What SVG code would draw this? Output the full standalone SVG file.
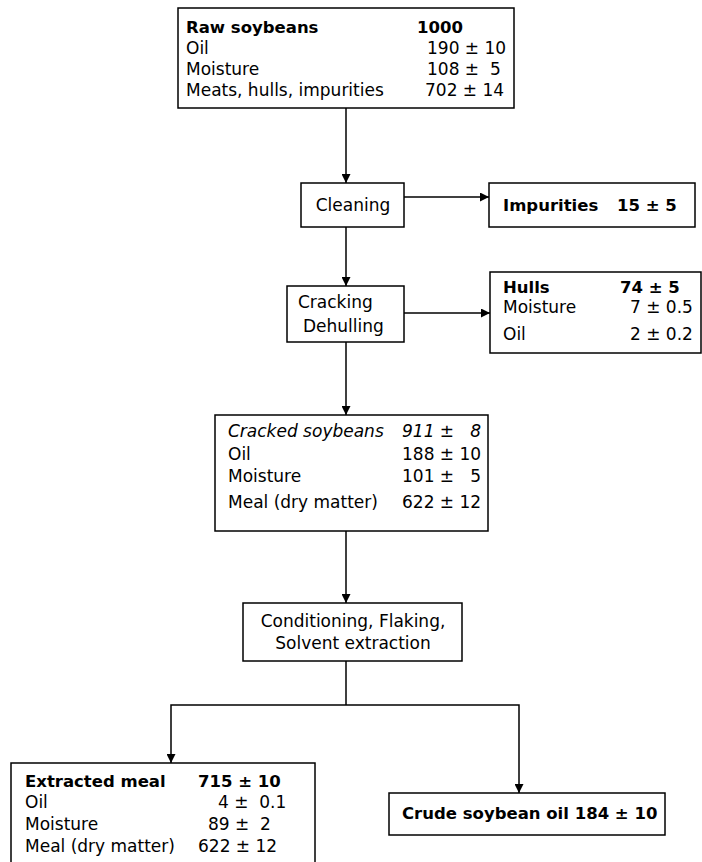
<svg xmlns="http://www.w3.org/2000/svg" width="702" height="862" viewBox="0 0 702 862" xml:space="preserve">
  <style>
    .box { fill: #ffffff; stroke: #000000; stroke-width: 1.5; }
    .t { font-family: "DejaVu Sans", "Liberation Sans", sans-serif; font-size: 17px; fill: #000000; white-space: pre; }
    .b { font-family: "DejaVu Sans", "Liberation Sans", sans-serif; font-size: 16.5px; font-weight: bold; fill: #000000; white-space: pre; }
    .i { font-style: italic; }
    .c { text-anchor: middle; }
    .ln { fill: none; stroke: #000000; stroke-width: 1.5; }
  </style>
  <defs>
    <marker id="arrow" viewBox="0 0 10 10" refX="10" refY="5" markerWidth="9" markerHeight="9" markerUnits="userSpaceOnUse" orient="auto">
      <path d="M0,0 L10,5 L0,10 z" fill="#000000"/>
    </marker>
  </defs>
  <rect width="702" height="862" fill="#ffffff"/>

  <!-- flow lines -->
  <g id="connectors">
    <path class="ln" d="M346,108 V183" marker-end="url(#arrow)"/>
    <path class="ln" d="M404,197 H489" marker-end="url(#arrow)"/>
    <path class="ln" d="M346,227 V286" marker-end="url(#arrow)"/>
    <path class="ln" d="M404,313 H490" marker-end="url(#arrow)"/>
    <path class="ln" d="M346,342 V415" marker-end="url(#arrow)"/>
    <path class="ln" d="M346,531 V603" marker-end="url(#arrow)"/>
    <path class="ln" d="M346,661 V705"/>
    <path class="ln" d="M346,705 H171 V763" marker-end="url(#arrow)"/>
    <path class="ln" d="M346,705 H519 V793" marker-end="url(#arrow)"/>
  </g>

  <g id="raw-soybeans">
    <rect class="box" x="178" y="8" width="336" height="100"/>
    <text class="b" x="186" y="33">Raw soybeans</text>
    <text class="b" x="417" y="33">1000</text>
    <text class="t" x="186" y="54">Oil</text>
    <text class="t" x="427" y="54">190 ± 10</text>
    <text class="t" x="186" y="75">Moisture</text>
    <text class="t" x="427" y="75">108 ±  5</text>
    <text class="t" x="186" y="96">Meats, hulls, impurities</text>
    <text class="t" x="425" y="96">702 ± 14</text>
  </g>

  <g id="cleaning">
    <rect class="box" x="301" y="183" width="103" height="44"/>
    <text class="t c" x="353" y="211">Cleaning</text>
  </g>

  <g id="impurities">
    <rect class="box" x="489" y="183" width="206" height="44"/>
    <text class="b" x="503" y="211">Impurities</text>
    <text class="b" x="617" y="211">15 ± 5</text>
  </g>

  <g id="cracking">
    <rect class="box" x="287" y="286" width="117" height="56"/>
    <text class="t" x="298" y="308">Cracking</text>
    <text class="t" x="303" y="332">Dehulling</text>
  </g>

  <g id="hulls">
    <rect class="box" x="490" y="272" width="211" height="81"/>
    <text class="b" x="503" y="293">Hulls</text>
    <text class="b" x="620" y="293">74 ± 5</text>
    <text class="t" x="503" y="313">Moisture</text>
    <text class="t" x="630" y="313">7 ± 0.5</text>
    <text class="t" x="503" y="340">Oil</text>
    <text class="t" x="630" y="340">2 ± 0.2</text>
  </g>

  <g id="cracked-soybeans">
    <rect class="box" x="215" y="415" width="273" height="116"/>
    <text class="t i" x="228" y="437">Cracked soybeans</text>
    <text class="t i" x="402" y="437">911 ±   8</text>
    <text class="t" x="228" y="460">Oil</text>
    <text class="t" x="402" y="460">188 ± 10</text>
    <text class="t" x="228" y="482">Moisture</text>
    <text class="t" x="402" y="482">101 ±   5</text>
    <text class="t" x="228" y="508">Meal (dry matter)</text>
    <text class="t" x="402" y="508">622 ± 12</text>
  </g>

  <g id="conditioning">
    <rect class="box" x="243" y="603" width="219" height="58"/>
    <text class="t c" x="353" y="627">Conditioning, Flaking,</text>
    <text class="t c" x="353" y="649">Solvent extraction</text>
  </g>

  <g id="extracted-meal">
    <rect class="box" x="11" y="763" width="304" height="110"/>
    <text class="b" x="25" y="787">Extracted meal</text>
    <text class="b" x="198" y="787">715 ± 10</text>
    <text class="t" x="25" y="808">Oil</text>
    <text class="t" x="218" y="808">4 ±  0.1</text>
    <text class="t" x="25" y="830">Moisture</text>
    <text class="t" x="208" y="830">89 ±  2</text>
    <text class="t" x="25" y="852">Meal (dry matter)</text>
    <text class="t" x="198" y="852">622 ± 12</text>
  </g>

  <g id="crude-soybean-oil">
    <rect class="box" x="389" y="793" width="276" height="42"/>
    <text class="b" x="402" y="819">Crude soybean oil 184 ± 10</text>
  </g>
</svg>
